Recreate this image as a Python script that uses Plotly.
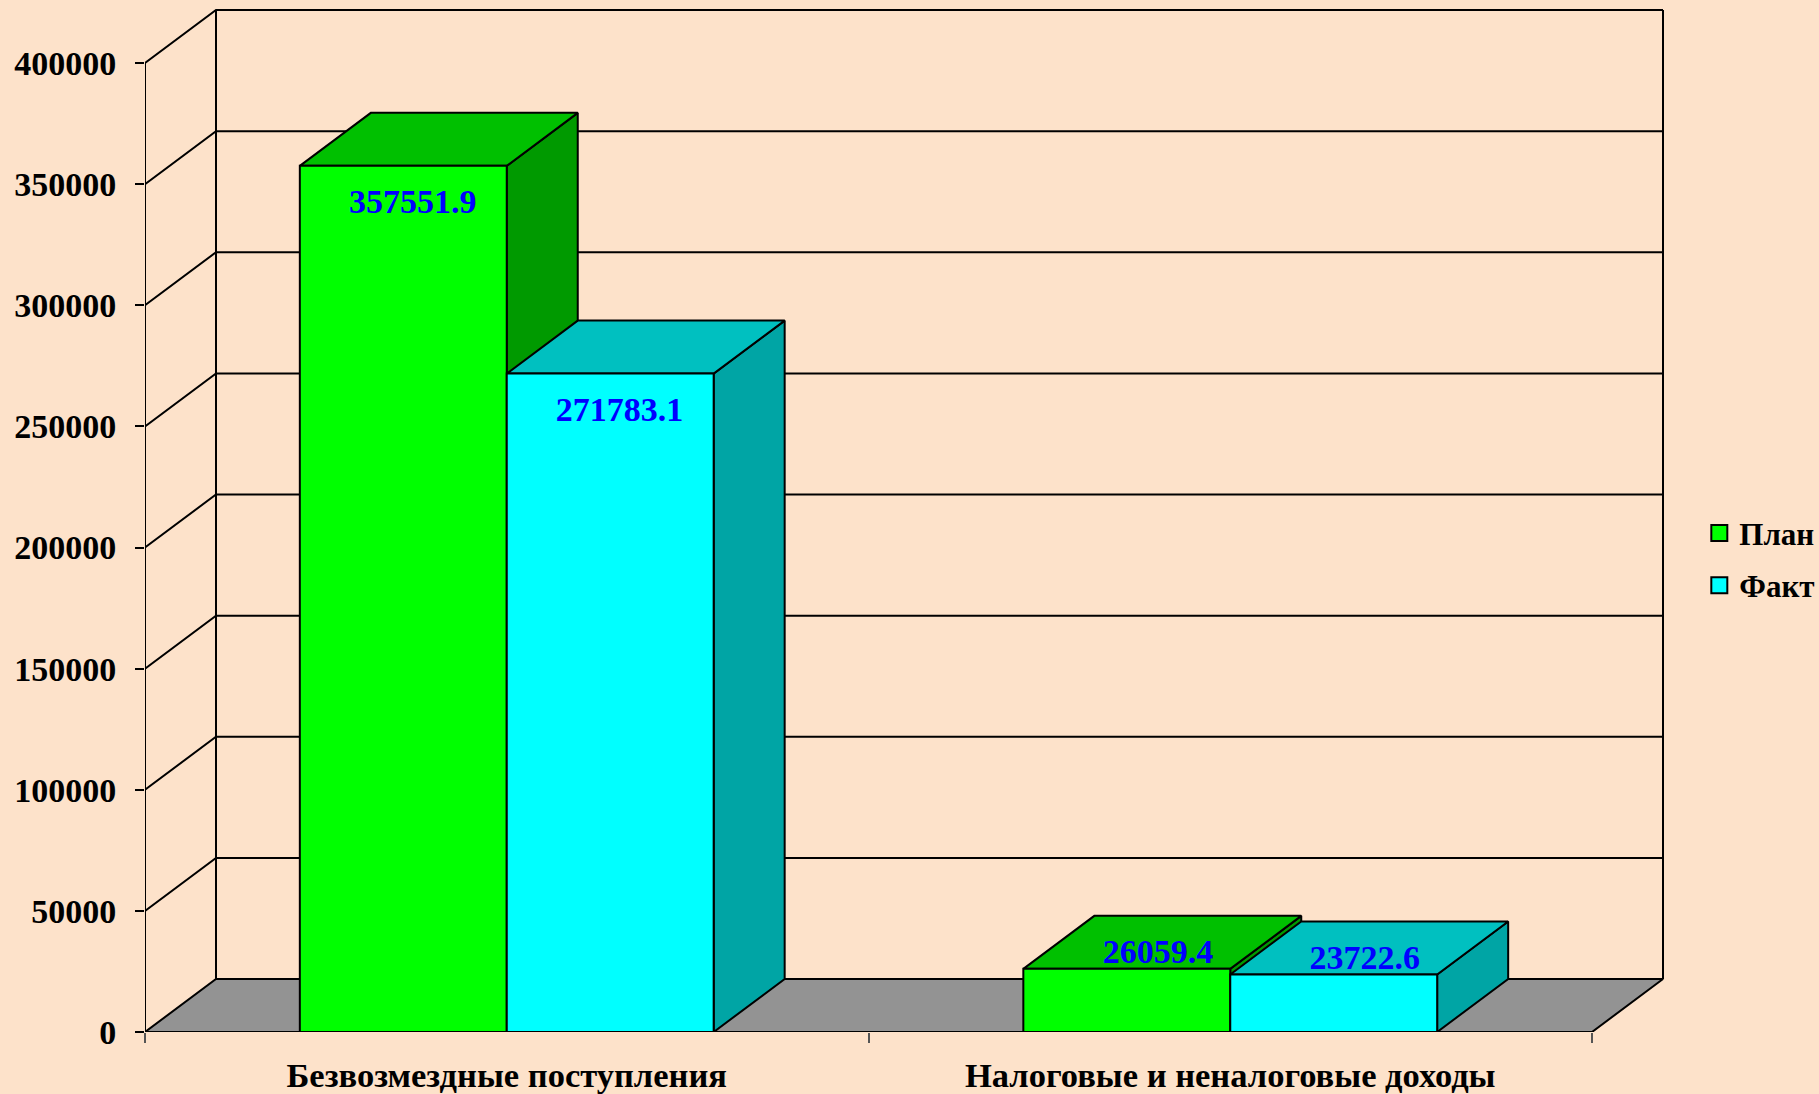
import plotly.graph_objects as go

# ---- data ----
categories = ["Безвозмездные поступления", "Налоговые и неналоговые доходы"]
series_names = ["План", "Факт"]
plan_values = [357551.9, 26059.4]
fact_values = [271783.1, 23722.6]
y_ticks = [0, 50000, 100000, 150000, 200000, 250000, 300000, 350000, 400000]

# ---- style ----
BG = "#FDE2CA"
FLOOR = "#939393"
FONT = "Liberation Serif"
front_colors = ["#00FF00", "#00FFFF"]
top_colors = ["#00C000", "#00C0C0"]
side_colors = ["#009A00", "#00A5A5"]

# geometry in data units
PX_X = 723.5            # pixels per category
PX_Y = 412.8            # value units per pixel
DX = 71 / PX_X          # depth offset (x)
DY = 53 * PX_Y          # depth offset (y)
BW = 0.286              # bar width (category units)
X0, X1 = -0.5, len(categories) - 0.5
YMAX = y_ticks[-1]

fig = go.Figure()

def line_trace(xs, ys, width=2, color="black"):
    fig.add_trace(go.Scatter(x=xs, y=ys, mode="lines", line=dict(color=color, width=width),
                             hoverinfo="skip", showlegend=False))

# floor
fig.add_trace(go.Scatter(x=[X0, X1, X1 + DX, X0 + DX, X0], y=[0, 0, DY, DY, 0],
                         mode="lines", fill="toself", fillcolor=FLOOR,
                         line=dict(color="black", width=2), hoverinfo="skip", showlegend=False))

# back wall gridlines and left wall diagonals
gx, gy = [], []
for v in y_ticks[1:]:
    gx += [X0, X0 + DX, X1 + DX, None]
    gy += [v, v + DY, v + DY, None]
line_trace(gx, gy)
# wall verticals
line_trace([X0, X0, None, X0 + DX, X0 + DX, None, X1 + DX, X1 + DX],
           [0, YMAX, None, DY, YMAX + DY, None, DY, YMAX + DY])

# bars (left to right painter order)
bars = []
for ci in range(len(categories)):
    for si, vals in enumerate([plan_values, fact_values]):
        left = ci - BW + si * BW
        bars.append((left, vals[ci], si))

for left, v, si in bars:
    right = left + BW
    # side face
    fig.add_trace(go.Scatter(x=[right, right + DX, right + DX, right, right],
                             y=[0, DY, v + DY, v, 0], mode="lines", fill="toself",
                             fillcolor=side_colors[si], line=dict(color="black", width=2),
                             hoverinfo="skip", showlegend=False))
    # top face
    fig.add_trace(go.Scatter(x=[left, right, right + DX, left + DX, left],
                             y=[v, v, v + DY, v + DY, v], mode="lines", fill="toself",
                             fillcolor=top_colors[si], line=dict(color="black", width=2),
                             hoverinfo="skip", showlegend=False))
    # front face
    fig.add_trace(go.Scatter(x=[left, right, right, left, left],
                             y=[0, 0, v, v, 0], mode="lines", fill="toself",
                             fillcolor=front_colors[si], line=dict(color="black", width=2),
                             name=series_names[si], hovertemplate="%{y}<extra></extra>",
                             showlegend=False))

# value labels
lx, ly, lt = [], [], []
for left, v, si in bars:
    tall = v > 100000
    lx.append(left + BW / 2 + (0.013 if tall else 0.043))
    ly.append(v - 16000 if tall else v + 6000)
    lt.append(f"{v:.1f}")
fig.add_trace(go.Scatter(x=lx, y=ly, text=lt, mode="text", cliponaxis=False,
                         textfont=dict(family=FONT, size=34, color="#0000FF", weight="bold"),
                         hoverinfo="skip", showlegend=False))

# legend entries
for si, name in enumerate(series_names):
    fig.add_trace(go.Scatter(x=[None], y=[None], mode="markers", name=name,
                             marker=dict(symbol="square", size=16, color=front_colors[si],
                                         line=dict(color="black", width=2)),
                             legendgroup=name))

fig.update_layout(
    width=1819, height=1094,
    margin=dict(l=145, r=0, t=0, b=62, pad=0, autoexpand=False),
    paper_bgcolor=BG, plot_bgcolor=BG,
    font=dict(family=FONT, color="black"),
    showlegend=True,
    legend=dict(x=0.9285, xanchor="left", y=0.458, yanchor="middle",
                bgcolor="rgba(0,0,0,0)", tracegroupgap=9,
                font=dict(family=FONT, size=31, color="black", weight="bold")),
    xaxis=dict(range=[X0, X0 + (1819 - 145) / PX_X], showgrid=False, zeroline=False,
               showline=False, automargin=False, tickvals=list(range(len(categories))),
               ticktext=categories, ticks="", ticklabelstandoff=19,
               tickfont=dict(family=FONT, size=34.5, color="black", weight="bold"),
               minor=dict(tickvals=[X0 + i for i in range(len(categories) + 1)],
                          ticks="outside", ticklen=10, tickcolor="#555555", tickwidth=2)),
    yaxis=dict(range=[0, 1032 * PX_Y], showgrid=False, zeroline=False, showline=False,
               automargin=False, tickvals=y_ticks, ticktext=[str(t) for t in y_ticks],
               ticks="outside", ticklen=9, tickwidth=2, tickcolor="black",
               ticklabelstandoff=12,
               tickfont=dict(family=FONT, size=34, color="black", weight="bold")),
)

fig.write_html("out.html", config={"displayModeBar": False},
               post_script="document.body.style.margin='0px';document.body.style.overflow='hidden';")
